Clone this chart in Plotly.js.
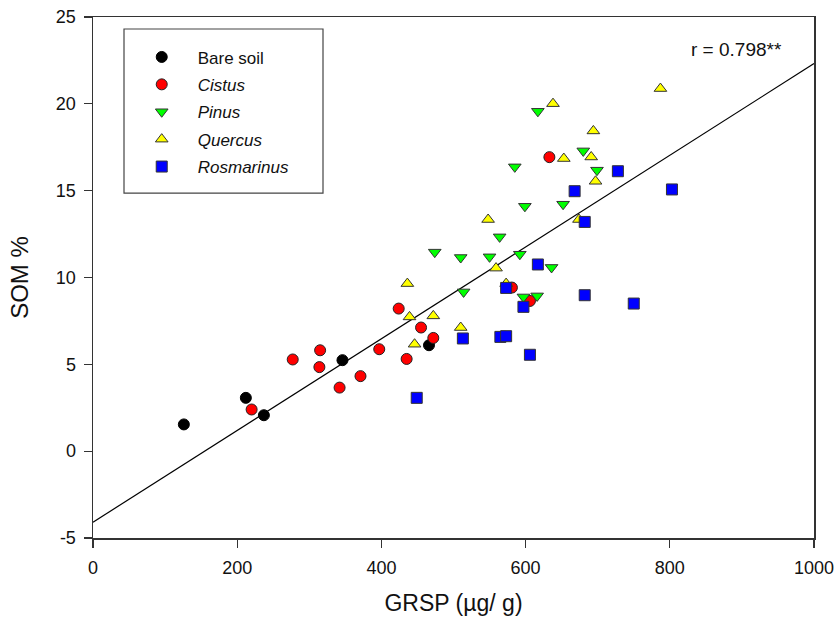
<!DOCTYPE html>
<html>
<head>
<meta charset="utf-8">
<script src="https://cdn.plot.ly/plotly-3.0.1.min.js"></script>
<style>
  html, body { margin: 0; padding: 0; background: #fff; }
  #chart { width: 838px; height: 624px; }
</style>
</head>
<body>
<div id="chart"></div>
<script>
// ---- data (GRSP µg/g vs SOM %) ----
const bareX = [126, 212, 237, 346, 466];
const bareY = [1.54, 3.07, 2.07, 5.24, 6.10];

const cistusX = [220, 342, 277, 315, 314, 397, 435, 371, 424, 455, 472, 581, 606, 633];
const cistusY = [2.40, 3.66, 5.28, 5.81, 4.84, 5.87, 5.31, 4.32, 8.21, 7.12, 6.52, 9.42, 8.65, 16.93];

const pinusX = [474, 510, 514, 550, 564, 585, 592, 597, 599, 616, 617, 636, 652, 680, 699];
const pinusY = [11.46, 11.15, 9.17, 11.19, 12.34, 16.37, 11.34, 8.88, 14.10, 8.94, 19.57, 10.58, 14.22, 17.29, 16.18];

const quercusX = [436, 439, 446, 472, 510, 548, 559, 573, 638, 653, 674, 691, 694, 697, 787];
const quercusY = [9.65, 7.73, 6.16, 7.79, 7.12, 13.34, 10.54, 9.65, 20.01, 16.85, 13.34, 16.94, 18.44, 15.54, 20.88];

const rosX = [449, 513, 565, 573, 573, 597, 606, 617, 668, 682, 682, 728, 750, 803];
const rosY = [3.07, 6.49, 6.58, 6.62, 9.40, 8.31, 5.55, 10.75, 14.97, 13.20, 8.98, 16.12, 8.50, 15.07];

// regression line end points
const fitX = [0, 1000];
const fitY = [-4.09, 22.32];

const xTicks = [0, 200, 400, 600, 800, 1000];
const yTicks = [-5, 0, 5, 10, 15, 20, 25];

const FONT = 'Arial, "Liberation Sans", Helvetica, sans-serif';

function pts(x, y, name, symbol, color, lineColor, group) {
  return {
    x: x, y: y, name: name, type: 'scatter', mode: 'markers',
    legendgroup: group,
    marker: { symbol: symbol, size: 11, color: color,
              line: { color: lineColor, width: 1 } },
    hoverinfo: 'x+y'
  };
}

const traces = [
  { x: fitX, y: fitY, type: 'scatter', mode: 'lines', showlegend: false,
    line: { color: '#000', width: 1.2 }, hoverinfo: 'skip' },
  pts(bareX, bareY, 'Bare soil', 'circle', '#000000', '#000000', 'g1'),
  pts(cistusX, cistusY, '<i>Cistus</i>', 'circle', '#FF0000', '#222222', 'g2'),
  pts(pinusX, pinusY, '<i>Pinus</i>', 'triangle-down', '#00FF00', '#333333', 'g3'),
  pts(quercusX, quercusY, '<i>Quercus</i>', 'triangle-up', '#FFFF00', '#333333', 'g4'),
  pts(rosX, rosY, '<i>Rosmarinus</i>', 'square', '#0000FF', '#333333', 'g5')
];

const axisCommon = {
  showgrid: false, zeroline: false, showline: true, mirror: true,
  linecolor: '#333', linewidth: 1.5, ticks: 'outside', ticklen: 8,
  tickwidth: 1.2, tickcolor: '#333',
  tickfont: { family: FONT, size: 18, color: '#111' }
};

const layout = {
  width: 838, height: 624,
  margin: { l: 93, r: 24, t: 17, b: 86 },
  paper_bgcolor: '#fff', plot_bgcolor: '#fff',
  font: { family: FONT, color: '#111' },
  xaxis: Object.assign({}, axisCommon, {
    range: [0, 1000], tickvals: xTicks, ticktext: xTicks.map(String),
    ticklabelstandoff: 5,
    title: { text: 'GRSP (µg/ g)', font: { family: FONT, size: 23, color: '#111' }, standoff: 18 }
  }),
  yaxis: Object.assign({}, axisCommon, {
    range: [-5, 25], tickvals: yTicks, ticktext: yTicks.map(String),
    ticklabelstandoff: 4,
    title: { text: 'SOM %', font: { family: FONT, size: 24, color: '#111' }, standoff: 20 }
  }),
  showlegend: true,
  legend: {
    x: 0.0454, y: 0.957, xanchor: 'left', yanchor: 'top',
    bgcolor: 'rgba(0,0,0,0)', borderwidth: 0,
    font: { family: FONT, size: 17, color: '#111' },
    itemwidth: 62, tracegroupgap: 2.3
  },
  shapes: [{
    type: 'rect', xref: 'paper', yref: 'paper',
    x0: 0.043, x1: 0.319, y0: 0.662, y1: 0.977,
    line: { color: '#444', width: 1.2 }, fillcolor: 'rgba(0,0,0,0)'
  }],
  annotations: [{
    xref: 'paper', yref: 'paper', x: 0.893, y: 0.937,
    xanchor: 'center', yanchor: 'middle', showarrow: false,
    text: 'r = 0.798**', font: { family: FONT, size: 19, color: '#111' }
  }]
};

Plotly.newPlot('chart', traces, layout, { displayModeBar: false, staticPlot: true });
</script>
</body>
</html>
